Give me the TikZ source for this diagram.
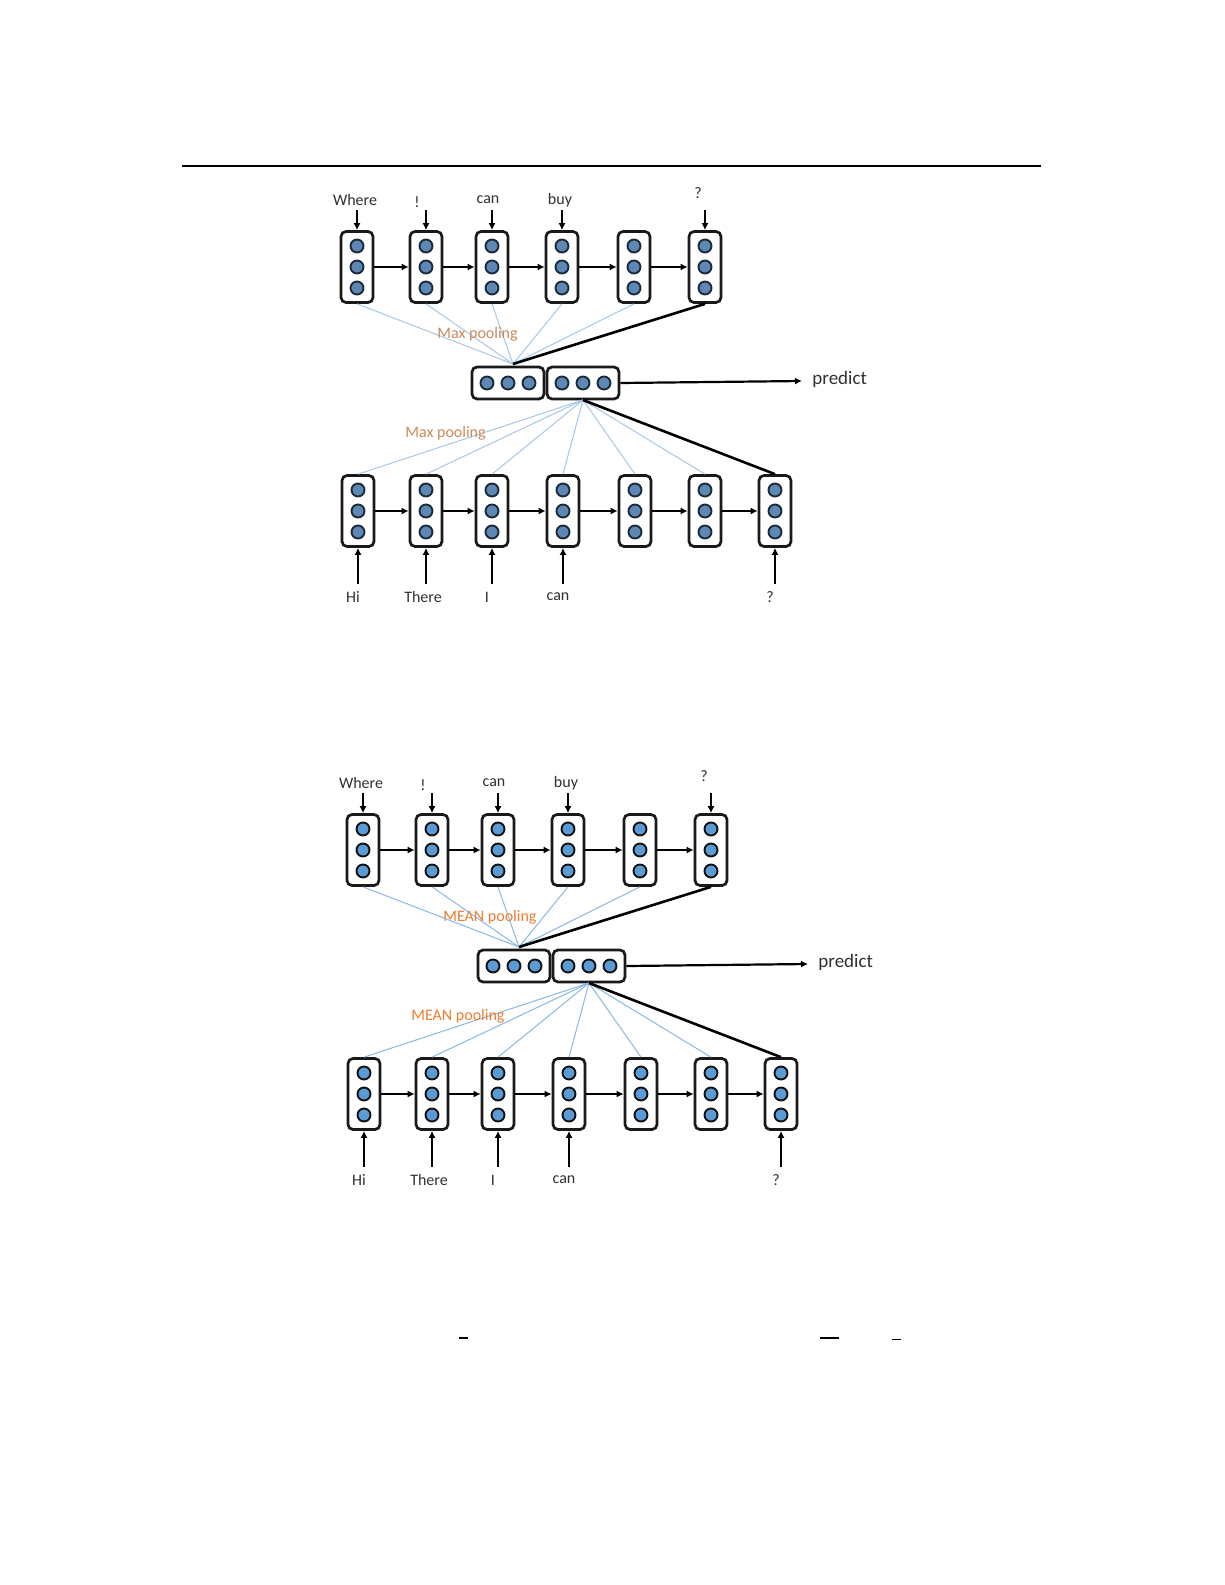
\documentclass[tikz,border=0pt]{standalone}
\usepackage{fontspec}
\setmainfont{Carlito}
\usetikzlibrary{arrows.meta}
\definecolor{dotA}{HTML}{5D88B3}
\definecolor{dotAd}{HTML}{1C2A3A}
\definecolor{lineA}{HTML}{A7C7E7}
\definecolor{poolA}{HTML}{CC8A5C}
\definecolor{dotB}{HTML}{5B9BD5}
\definecolor{dotBd}{HTML}{111111}
\definecolor{lineB}{HTML}{8AB8E6}
\definecolor{poolB}{HTML}{ED7D31}
\definecolor{wordc}{HTML}{303030}
\tikzset{
  cell/.style={draw=black!90, fill=white, line width=1.35pt, rounded corners=2.5pt,
    minimum width=16pt, minimum height=35.5pt, inner sep=0pt},
  pairbox/.style={draw=black!90, fill=white, line width=1.35pt, rounded corners=2.5pt,
    minimum width=36pt, minimum height=16pt, inner sep=0pt},
  dotn/.style={circle, minimum size=6.5pt, inner sep=0pt, line width=0.95pt},
  arr/.style={line width=1.1pt, -{Latex[length=3.5pt,width=3.5pt]}},
  thk/.style={line width=1.3pt},
  word/.style={font=\fontsize{8}{9}\selectfont, text=wordc, inner sep=1pt},
  plabel/.style={font=\fontsize{8}{9}\selectfont, inner sep=0pt, anchor=west},
}
% #1 prefix, #2 shift, #3 pooling word, #4 dot fill, #5 dot draw, #6 line colour, #7 pool text colour
\newcommand\mypanel[7]{%
\begin{scope}[shift={#2}]
  % top row
  \foreach \i/\x in {1/357,2/426,3/492,4/562,5/634,6/705} {
    \node[cell] (#1t\i) at (\x,267) {};
    \foreach \k/\d in {a/-21,b/0,c/21}
      \node[dotn, fill=#4, draw=#5] (#1t\i\k) at (\x,{267+\d}) {};
  }
  % bottom row
  \foreach \i/\x in {1/358,2/426,3/492,4/563,5/635,6/705,7/775} {
    \node[cell] (#1b\i) at (\x,511) {};
    \foreach \k/\d in {a/-21,b/0,c/21}
      \node[dotn, fill=#4, draw=#5] (#1b\i\k) at (\x,{511+\d}) {};
  }
  % middle pair
  \node[pairbox] (#1A) at (508,383) {};
  \node[pairbox] (#1B) at (583,383) {};
  \foreach \k/\d in {a/-21,b/0,c/21} {
    \node[dotn, fill=#4, draw=#5] (#1A\k) at ({508+\d},383) {};
    \node[dotn, fill=#4, draw=#5] (#1B\k) at ({583+\d},383) {};
  }
  % recurrent arrows
  \foreach \i [remember=\i as \lasti (initially 1)] in {2,...,6}
    \draw[arr] (#1t\lasti) -- (#1t\i);
  \foreach \i [remember=\i as \lasti (initially 1)] in {2,...,7}
    \draw[arr] (#1b\lasti) -- (#1b\i);
  % input words, top row
  \foreach \i/\w/\x/\y in {1/Where/355/200, 2/!/417/202, 3/can/488/200, 4/buy/560/200, 6/?/698/193} {
    \node[word] (#1w\i) at (\x,\y) {\w};
    \path (#1t\i.north) ++(0,-20) coordinate (#1s\i);
    \draw[arr] (#1s\i) -- (#1t\i.north);
  }
  % input words, bottom row
  \foreach \i/\w/\x in {1/Hi/353, 2/There/423, 3/I/487, 4/can/558, 7/?/770} {
    \node[word] (#1v\i) at (\x,597) {\w};
    \path (#1b\i.south) ++(0,36) coordinate (#1u\i);
    \draw[arr] (#1u\i) -- (#1b\i.south);
  }
  % pooling connectors
  \coordinate (#1up) at (513,364);
  \coordinate (#1dn) at (583,400);
  \foreach \i in {1,...,5} \draw[#6, line width=0.5pt] (#1t\i.south) -- (#1up);
  \draw[thk] (#1t6.south) -- (#1up);
  \foreach \i in {1,...,6} \draw[#6, line width=0.5pt] (#1b\i.north) -- (#1dn);
  \draw[thk] (#1b7.north) -- (#1dn);
  \node[plabel, text=#7] (#1p1) at (437,334) {#3 pooling};
  \node[plabel, text=#7] (#1p2) at (405,433) {#3 pooling};
  % prediction
  \coordinate (#1pe) at (802,381);
  \draw[arr] (#1B.east) -- (#1pe);
  \node[font=\fontsize{9.5}{11}\selectfont, text=wordc, anchor=west, inner sep=0pt] (#1pr) at (812,379) {predict};
\end{scope}}

\begin{document}
\begin{tikzpicture}[x=0.5pt, y=-0.5pt]
  \useasboundingbox (0,0) rectangle (1225,1585);
  \fill[white] (0,0) rectangle (1225,1585);
  % header rule
  \draw[line width=1pt] (182,166) -- (1041,166);
  \mypanel{P}{(0,0)}{Max}{dotA}{dotAd}{lineA}{poolA}
  \mypanel{Q}{(6,583)}{MEAN}{dotB}{dotBd}{lineB}{poolB}
  % stray marks at the bottom of the page
  \draw[line width=1.1pt] (459,1338) -- (468,1338);
  \draw[line width=1.1pt] (820,1338) -- (839,1338);
  \draw[line width=0.6pt] (892,1339.5) -- (901,1339.5);
\end{tikzpicture}
\end{document}
